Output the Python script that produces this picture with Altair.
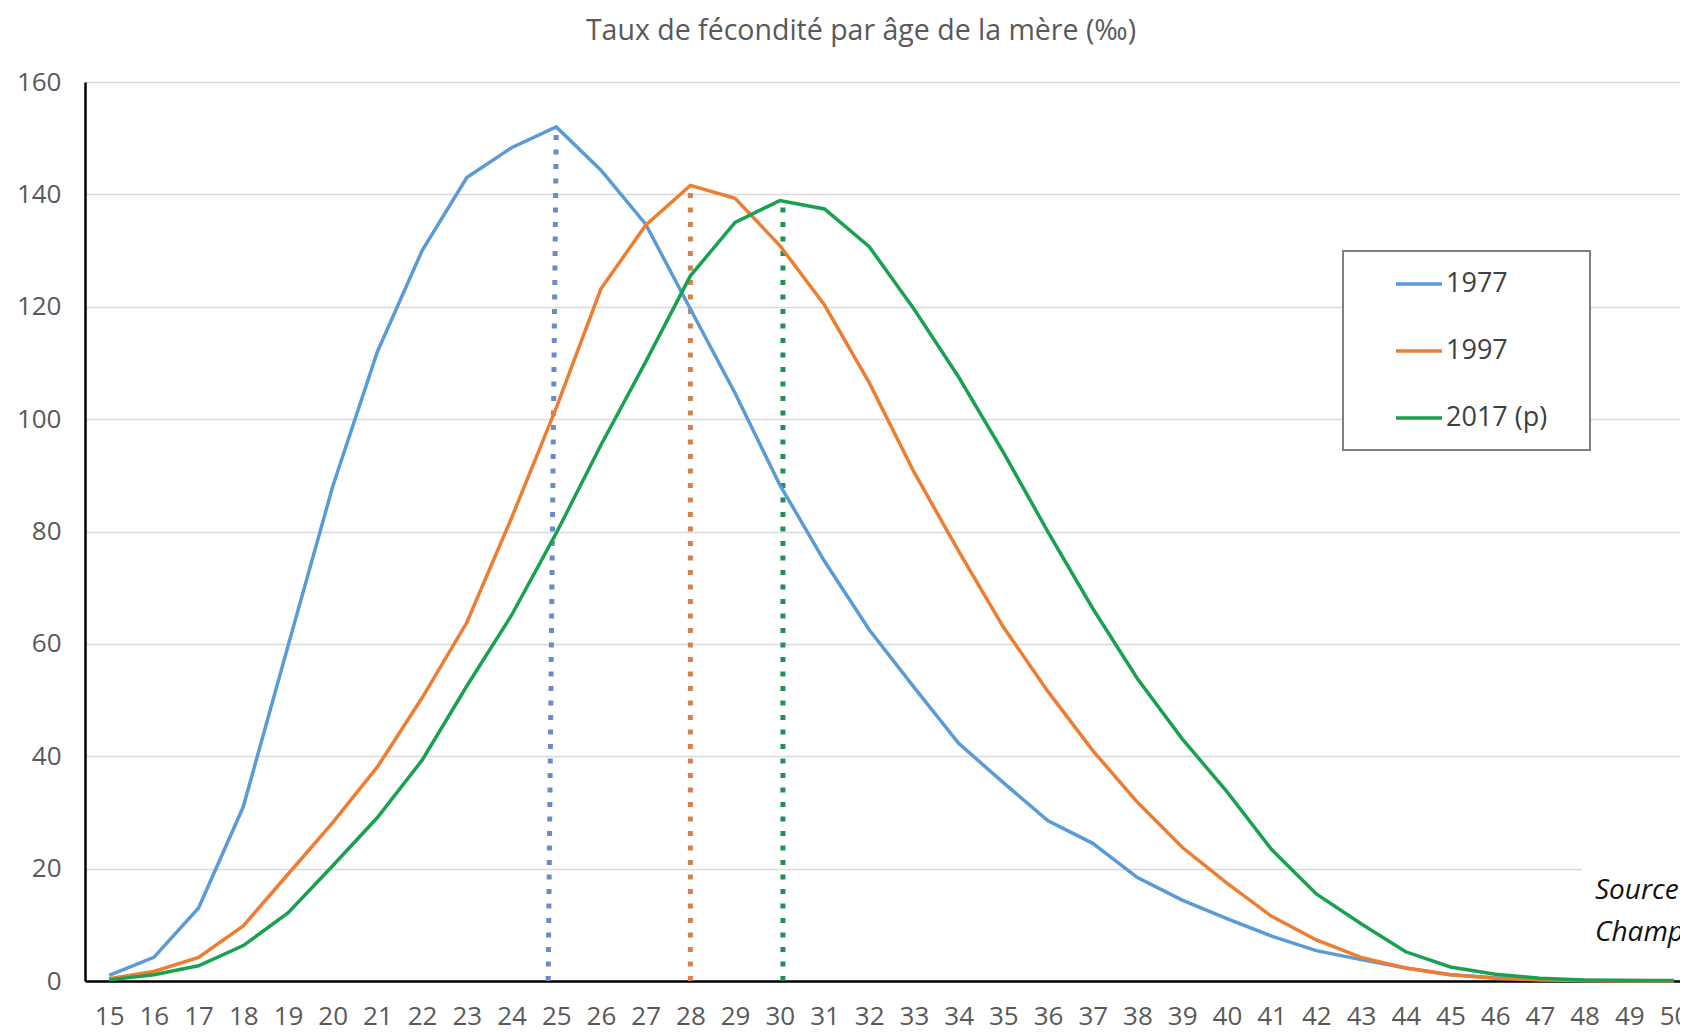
import altair as alt
import pandas as pd

# ---------------- data ----------------
ages = list(range(15, 51))
taux_1977 = [1.0, 4.2, 13.0, 31.0, 59.6, 88.0, 112.0, 130.0, 143.0, 148.3,
             152.0, 144.3, 134.7, 119.6, 104.6, 88.3, 74.7, 62.5, 52.3, 42.3,
             35.3, 28.5, 24.5, 18.4, 14.4, 11.1, 8.0, 5.4, 3.8, 2.3,
             1.1, 0.6, 0.3, 0.1, 0.1, 0.0]
taux_1997 = [0.4, 1.7, 4.2, 9.8, 19.0, 28.2, 38.1, 50.4, 63.8, 82.4,
             102.0, 123.2, 134.5, 141.6, 139.3, 130.9, 120.3, 106.5, 90.6, 76.5,
             63.0, 51.5, 41.0, 31.8, 23.8, 17.4, 11.5, 7.3, 4.2, 2.3,
             1.1, 0.5, 0.2, 0.1, 0.0, 0.0]
taux_2017 = [0.2, 1.1, 2.7, 6.3, 12.1, 20.5, 29.1, 39.3, 52.5, 65.1,
             79.7, 95.4, 110.2, 125.5, 135.0, 138.9, 137.4, 130.7, 119.6, 107.5,
             94.1, 79.9, 66.3, 53.8, 43.1, 33.7, 23.4, 15.5, 10.2, 5.2,
             2.5, 1.2, 0.5, 0.2, 0.1, 0.1]

series = ["1977", "1997", "2017 (p)"]
line_colors = ["#5b9bd5", "#ed7d31", "#1aa150"]
dot_colors = ["#6a8cc6", "#cf8350", "#1f9150"]

# dotted markers at the modal age of each curve
mode_x_bottom = [24.82, 28.0, 30.07]
mode_x_top = [25.0, 28.0, 30.07]
mode_value = [152.0, 141.6, 138.9]

x_ticks = ages
y_ticks = [0, 20, 40, 60, 80, 100, 120, 140, 160]
title_text = "Taux de fécondité par âge de la mère (‰)"
note_lines = ["Source :", "Champ :"]

# ---------------- tables ----------------
rows = []
for s, vals in zip(series, [taux_1977, taux_1997, taux_2017]):
    for a, v in zip(ages, vals):
        rows.append({"age": a, "taux": v, "serie": s})
df = pd.DataFrame(rows)

df_modes = pd.DataFrame({
    "serie": series,
    "x0": mode_x_bottom,
    "x1": mode_x_top,
    "y0": [0, 0, 0],
    "y1": mode_value,
    "col": dot_colors,
})

FONT = "Open Sans"
W, H = 1595, 899

xscale = alt.Scale(domain=[14.46, 50.134], nice=False, zero=False)
yscale = alt.Scale(domain=[0, 160], nice=False)

x_axis = alt.Axis(values=x_ticks, title=None, grid=False, ticks=False,
                  labelFontSize=26, labelFont=FONT, labelColor="#595959",
                  labelPadding=22, labelFlush=False, labelOverlap=False,
                  domainColor="#000000", domainWidth=2.5)
y_axis = alt.Axis(values=y_ticks, title=None, grid=True, gridColor="#d9d9d9",
                  gridWidth=1.5, ticks=False, labelFontSize=26, labelFont=FONT,
                  labelColor="#595959", labelPadding=24,
                  domainColor="#000000", domainWidth=2.5)

base = alt.Chart(df)

lines = base.mark_line(strokeWidth=3.5).encode(
    x=alt.X("age:Q", scale=xscale, axis=x_axis),
    y=alt.Y("taux:Q", scale=yscale, axis=y_axis),
    color=alt.Color("serie:N",
                    scale=alt.Scale(domain=series, range=line_colors),
                    sort=series,
                    legend=alt.Legend(title=None, orient="none",
                                      legendX=1309, legendY=177,
                                      symbolType="stroke", symbolSize=2116,
                                      symbolStrokeWidth=3.5,
                                      labelFontSize=27, labelFont=FONT,
                                      labelColor="#404040", labelOffset=2,
                                      rowPadding=29, padding=0)),
)

modes = alt.Chart(df_modes).mark_rule(strokeWidth=5, strokeDash=[5, 9.5]).encode(
    x=alt.X("x0:Q", scale=xscale),
    x2="x1:Q",
    y=alt.Y("y0:Q", scale=yscale),
    y2="y1:Q",
    color=alt.Color("col:N", scale=None),
)

legend_box = alt.Chart(pd.DataFrame({"k": [0]})).mark_rect(
    fill="white", stroke="#7f7f7f", strokeWidth=2
).encode(
    x=alt.value(1258), x2=alt.value(1505), y=alt.value(169), y2=alt.value(368)
)

note_box = alt.Chart(pd.DataFrame({"k": [0]})).mark_rect(
    fill="white", strokeWidth=0
).encode(
    x=alt.value(1497), x2=alt.value(W + 5), y=alt.value(780), y2=alt.value(878)
)

note1 = alt.Chart(pd.DataFrame({"t": [note_lines[0]]})).mark_text(
    align="left", baseline="alphabetic", font=FONT, fontSize=28,
    fontStyle="italic", color="#111111"
).encode(x=alt.value(1510), y=alt.value(817), text="t:N")

note2 = alt.Chart(pd.DataFrame({"t": [note_lines[1]]})).mark_text(
    align="left", baseline="alphabetic", font=FONT, fontSize=28,
    fontStyle="italic", color="#111111"
).encode(x=alt.value(1510), y=alt.value(859), text="t:N")

title = alt.Chart(pd.DataFrame({"t": [title_text]})).mark_text(
    align="center", baseline="middle", font=FONT, fontSize=28.5, color="#595959"
).encode(x=alt.value(776), y=alt.value(-51), text="t:N")

chart = alt.layer(
    modes, lines, legend_box, note_box, note1, note2, title
).properties(
    width=W, height=H,
    padding={"left": 77, "top": 74, "right": 0, "bottom": 51},
    autosize=alt.AutoSizeParams(type="none"),
).configure_view(stroke=None)

chart.save("out.html", embed_options={"renderer": "svg", "actions": False})
